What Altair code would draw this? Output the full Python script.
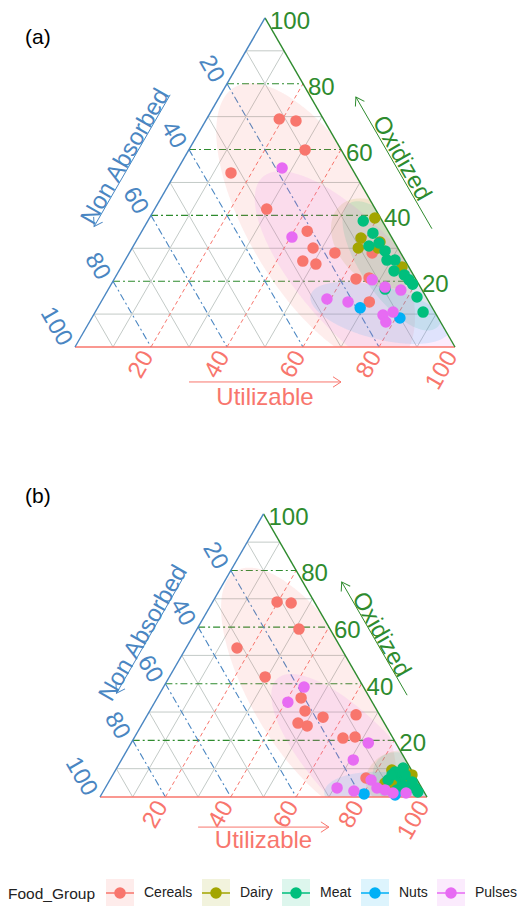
import altair as alt
import numpy as np
import pandas as pd

# ---------------- data (percent) ----------------
GROUPS = ["Cereals", "Dairy", "Meat", "Nuts", "Pulses"]
GROUP_COLORS = ["#F8766D", "#A3A500", "#00BF7D", "#00B0F6", "#E76BF3"]

# Panel (a): Utilizable and Oxidized; Non Absorbed = 100 - Utilizable - Oxidized
a_cereals_util = [19.1, 23.8, 30.6, 14.6, 29.5, 43.5, 47.6, 46.9, 50.8, 54.1, 63.6, 66.9, 70.6, 63.9]
a_cereals_oxid = [69.3, 68.7, 59.9, 52.9, 41.9, 35.2, 30.1, 26.1, 25.2, 28.6, 20.7, 21.0, 13.7, 28.6]
a_dairy_util = [59.3, 58.7, 59.5, 64.3, 64.7, 73.9]
a_dairy_oxid = [39.2, 33.1, 30.1, 31.9, 30.1, 24.3]
a_meat_util = [56.7, 61.1, 62.0, 64.2, 67.0, 68.9, 71.0, 72.4, 75.7, 77.7, 79.3, 72.8, 82.4, 86.3]
a_meat_oxid = [38.3, 34.6, 30.7, 31.6, 29.2, 26.4, 26.4, 23.1, 21.9, 20.4, 19.1, 17.6, 15.2, 10.6]
a_nuts_util = [69.1, 81.1]
a_nuts_oxid = [11.9, 8.8]
a_pulses_util = [27.3, 40.4, 68.0, 59.0, 65.0, 72.5, 77.1, 76.2, 78.4, 78.0]
a_pulses_oxid = [54.4, 33.4, 20.4, 14.6, 13.7, 18.2, 17.3, 9.7, 10.6, 7.6]

# Panel (b)
b_cereals_util = [19.7, 24.2, 31.2, 15.6, 29.3, 44.0, 47.5, 47.5, 50.8, 54.1, 63.8, 63.9, 67.4, 78.0]
b_cereals_oxid = [68.9, 68.5, 59.3, 52.6, 42.4, 35.0, 30.4, 26.1, 25.1, 28.2, 29.0, 20.8, 21.2, 6.7]
b_dairy_util = [84.7, 87.0, 91.4, 88.2, 84.5, 91.5]
b_dairy_oxid = [4.9, 4.6, 4.9, 9.5, 9.5, 7.8]
b_meat_util = [85.8, 87.6, 88.2, 85.1, 93.0, 94.7, 89.6, 86.6, 89.4, 85.4, 92.8, 92.5, 90.3, 96.3]
b_meat_oxid = [8.8, 10.2, 7.1, 6.0, 3.5, 3.2, 2.5, 8.5, 7.8, 7.8, 5.3, 2.8, 4.2, 1.8]
b_nuts_util = [80.2, 89.9]
b_nuts_oxid = [1.1, 0.7]
b_pulses_util = [43.0, 40.7, 72.5, 70.9, 70.9, 76.6, 79.9, 83.1, 85.9, 88.9, 92.9]
b_pulses_oxid = [38.8, 33.5, 19.1, 13.1, 3.2, 2.1, 6.0, 3.2, 2.5, 1.4, 1.4]

TICKS = [20, 40, 60, 80, 100]
MAJOR = [20, 40, 60, 80]
MINOR = [10, 30, 50, 70, 90]
PANEL_LABELS = ["(a)", "(b)"]
TITLE_U, TITLE_O, TITLE_N = "Utilizable", "Oxidized", "Non Absorbed"

# ---------------- layout / style ----------------
GEOM = {"a": dict(ox=67.0, oy=339.0, s=3.8), "b": dict(ox=92.0, oy=789.0, s=3.27)}
W, H = 513, 898
RED, GREEN, BLUE, GRAY = "#F8766D", "#2E8B2E", "#4A86C2", "#C3CAC7"
FONT = "Liberation Sans"
R3 = np.sqrt(3) / 2
K_SIG, REG_VAR = 2.3, 9.0
ZW = "\u200b"  # keeps the background-key legend separate from the point legend

XS = alt.Scale(domain=[0, W], nice=False, zero=False)
YS = alt.Scale(domain=[0, H], nice=False, zero=False, reverse=True)

panel_data = {
    "a": {"Cereals": (a_cereals_util, a_cereals_oxid), "Dairy": (a_dairy_util, a_dairy_oxid),
          "Meat": (a_meat_util, a_meat_oxid), "Nuts": (a_nuts_util, a_nuts_oxid),
          "Pulses": (a_pulses_util, a_pulses_oxid)},
    "b": {"Cereals": (b_cereals_util, b_cereals_oxid), "Dairy": (b_dairy_util, b_dairy_oxid),
          "Meat": (b_meat_util, b_meat_oxid), "Nuts": (b_nuts_util, b_nuts_oxid),
          "Pulses": (b_pulses_util, b_pulses_oxid)},
}

# points table
rows = []
for p, gd in panel_data.items():
    for g in GROUPS:
        U, O = gd[g]
        for u, o in zip(U, O):
            rows.append(dict(panel=p, group=g, U=u, O=o, N=100 - u - o, **GEOM[p]))
pts = pd.DataFrame(rows)

# confidence-like regions (covariance ellipses clipped to the triangle)
reg_rows = []
for p, gd in panel_data.items():
    for gi, g in enumerate(GROUPS):
        U, O = np.array(gd[g][0]), np.array(gd[g][1])
        x = U + O / 2
        y = O * R3
        m = np.array([x.mean(), y.mean()])
        C = np.cov(np.vstack([x, y])) + REG_VAR * np.eye(2)
        A = np.linalg.inv(C)
        hw = K_SIG * np.sqrt(C[0, 0])
        xs = m[0] + hw * np.cos(np.linspace(np.pi, 0, 260)) * 0.9999
        for xv in xs:
            if xv <= 0 or xv >= 100:
                continue
            dx = xv - m[0]
            qa = A[1, 1]
            qb = 2 * A[0, 1] * dx
            qc = A[0, 0] * dx * dx - K_SIG ** 2
            disc = qb * qb - 4 * qa * qc
            if disc < 0:
                continue
            y1 = m[1] + (-qb - np.sqrt(disc)) / (2 * qa)
            y2 = m[1] + (-qb + np.sqrt(disc)) / (2 * qa)
            top = min(xv, 100 - xv) * 2 * R3
            lo, hi = max(y1, 0.0), min(y2, top)
            if hi <= lo:
                continue
            reg_rows.append(dict(key=p + g, grp=g + ZW, xc=xv, ylo=lo, yhi=hi, **GEOM[p]))
regions = pd.DataFrame(reg_rows)

# grid lines (ternary end points)
grid_rows = []
for p in GEOM:
    for v in MINOR + MAJOR:
        kind = "minor" if v in MINOR else "major"
        grid_rows.append(dict(axis="O", kind=kind, U1=0, O1=v, U2=100 - v, O2=v, **GEOM[p]))
        grid_rows.append(dict(axis="U", kind=kind, U1=v, O1=0, U2=v, O2=100 - v, **GEOM[p]))
        grid_rows.append(dict(axis="N", kind=kind, U1=0, O1=100 - v, U2=100 - v, O2=0, **GEOM[p]))
    grid_rows.append(dict(axis="U", kind="edge", U1=0, O1=0, U2=100, O2=0, **GEOM[p]))
    grid_rows.append(dict(axis="O", kind="edge", U1=100, O1=0, U2=0, O2=100, **GEOM[p]))
    grid_rows.append(dict(axis="N", kind="edge", U1=0, O1=100, U2=0, O2=0, **GEOM[p]))
grid = pd.DataFrame(grid_rows)

# tick labels
tick_rows = []
for p in GEOM:
    for v in TICKS:
        tick_rows.append(dict(axis="U", label=str(v), U=v, O=0, offx=-3, offy=6, **GEOM[p]))
        tick_rows.append(dict(axis="O", label=str(v), U=100 - v, O=v, offx=5, offy=4, **GEOM[p]))
        tick_rows.append(dict(axis="N", label=str(v), U=0, O=100 - v, offx=-9, offy=-3, **GEOM[p]))
ticks = pd.DataFrame(tick_rows)

# axis titles and arrows (cartesian units, y up)
nR = np.array([R3, 0.5])
nL = np.array([-R3, 0.5])


def edge_pt(axis, v):
    if axis == "O":
        return np.array([100 - v / 2, v * R3])
    return np.array([(100 - v) / 2, (100 - v) * R3])  # left edge, N = v


title_rows, arrow_rows = [], []
for p in GEOM:
    g = GEOM[p]
    title_rows.append(dict(axis="U", text=TITLE_U, xc=50, yc=-13.4, **g))
    tO = edge_pt("O", 50) + 12.6 * nR
    title_rows.append(dict(axis="O", text=TITLE_O, xc=tO[0], yc=tO[1], **g))
    tN = edge_pt("N", 50) + 13.5 * nL
    title_rows.append(dict(axis="N", text=TITLE_N, xc=tN[0], yc=tN[1], **g))
    arrow_rows.append(dict(axis="U", col=RED, ang=0, x1=30, y1=-9.2, x2=70, y2=-9.2, **g))
    s0, s1 = edge_pt("O", 30) + 10.3 * nR, edge_pt("O", 70) + 10.3 * nR
    arrow_rows.append(dict(axis="O", col=GREEN, ang=240, x1=s0[0], y1=s0[1], x2=s1[0], y2=s1[1], **g))
    s0, s1 = edge_pt("N", 30) + 11.5 * nL, edge_pt("N", 70) + 11.5 * nL
    arrow_rows.append(dict(axis="N", col=BLUE, ang=120, x1=s0[0], y1=s0[1], x2=s1[0], y2=s1[1], **g))
titles = pd.DataFrame(title_rows)
arrows = pd.DataFrame(arrow_rows)

plabels = pd.DataFrame(dict(text=PANEL_LABELS, px=[17, 17], py=[30, 489]))

# ---------------- layers ----------------
def XY(xf, yf):
    return dict(x=alt.X(xf, type="quantitative", scale=XS, axis=None),
                y=alt.Y(yf, type="quantitative", scale=YS, axis=None))


def grid_chart(filt, **mk):
    return alt.Chart(grid).transform_filter(filt).transform_calculate(
        x1="datum.ox + datum.s*(datum.U1 + datum.O1/2)",
        y1="datum.oy - datum.s*datum.O1*0.8660254",
        x2="datum.ox + datum.s*(datum.U2 + datum.O2/2)",
        y2="datum.oy - datum.s*datum.O2*0.8660254",
    ).mark_rule(**mk).encode(**XY("x1", "y1"), x2="x2:Q", y2="y2:Q")


minor = grid_chart("datum.kind == 'minor'", color=GRAY, strokeWidth=1)
maj_u = grid_chart("datum.kind == 'major' && datum.axis == 'U'", color=RED, strokeWidth=1, strokeDash=[4, 3])
maj_o = grid_chart("datum.kind == 'major' && datum.axis == 'O'", color=GREEN, strokeWidth=1.1, strokeDash=[7, 3, 2, 3])
maj_n = grid_chart("datum.kind == 'major' && datum.axis == 'N'", color=BLUE, strokeWidth=1.1, strokeDash=[7, 3, 2, 3])
edge_u = grid_chart("datum.kind == 'edge' && datum.axis == 'U'", color=RED, strokeWidth=1.6)
edge_o = grid_chart("datum.kind == 'edge' && datum.axis == 'O'", color=GREEN, strokeWidth=1.4)
edge_n = grid_chart("datum.kind == 'edge' && datum.axis == 'N'", color=BLUE, strokeWidth=1.4)

LEG_COMMON = dict(orient="none", legendX=0, legendY=870, direction="horizontal",
                  title="Food_Group", titleOrient="left", titleFont=FONT, titleFontSize=15.5,
                  titleFontWeight="normal", titleColor="#222222", titlePadding=9,
                  titleBaseline="middle",
                  labelFont=FONT, labelFontSize=14, labelColor="#222222", labelOffset=9,
                  symbolSize=784, symbolStrokeWidth=1.5, columnPadding=6, padding=0)

area = alt.Chart(regions).transform_calculate(
    px="datum.ox + datum.s*datum.xc",
    py1="datum.oy - datum.s*datum.ylo",
    py2="datum.oy - datum.s*datum.yhi",
).mark_area(opacity=0.13, interpolate="monotone").encode(
    **XY("px", "py1"), y2="py2:Q",
    color=alt.Color("grp:N", scale=alt.Scale(domain=[g + ZW for g in GROUPS], range=GROUP_COLORS),
                    legend=alt.Legend(symbolType="M-1,-1L1,-1L1,1L-1,1Z", symbolStrokeColor="transparent",
                                      titleOpacity=0, labelOpacity=0, **LEG_COMMON)),
    detail="key:N")

# line-through-point key; the bare moves give it the same square bounds as the background keys
LEG_PATH = "M-1,-1M1,1M-1,0L1,0M0.36,0A0.36,0.36,0,1,1,-0.36,0A0.36,0.36,0,1,1,0.36,0Z"
PT_SCALE = alt.Scale(domain=GROUPS, range=GROUP_COLORS)
PT_LEGEND = alt.Legend(symbolType=LEG_PATH, **LEG_COMMON)
points = alt.Chart(pts).transform_calculate(
    px="datum.ox + datum.s*(datum.U + datum.O/2)",
    py="datum.oy - datum.s*datum.O*0.8660254",
).mark_point(filled=True, size=100, opacity=1, strokeWidth=1.5).encode(
    **XY("px", "py"),
    fill=alt.Fill("group:N", scale=PT_SCALE, legend=PT_LEGEND),
    stroke=alt.Stroke("group:N", scale=PT_SCALE, legend=PT_LEGEND))


def tick_chart(axis, col, angle, align):
    return alt.Chart(ticks).transform_filter(f"datum.axis == '{axis}'").transform_calculate(
        px="datum.ox + datum.s*(datum.U + datum.O/2) + datum.offx",
        py="datum.oy - datum.s*datum.O*0.8660254 + datum.offy",
    ).mark_text(font=FONT, fontSize=24, color=col, angle=angle, align=align, baseline="middle").encode(
        **XY("px", "py"), text="label:N")


def title_chart(axis, col, angle):
    return alt.Chart(titles).transform_filter(f"datum.axis == '{axis}'").transform_calculate(
        px="datum.ox + datum.s*datum.xc", py="datum.oy - datum.s*datum.yc",
    ).mark_text(font=FONT, fontSize=24, color=col, angle=angle, align="center", baseline="middle").encode(
        **XY("px", "py"), text="text:N")


arrow_base = alt.Chart(arrows).transform_calculate(
    ax1="datum.ox + datum.s*datum.x1", ay1="datum.oy - datum.s*datum.y1",
    ax2="datum.ox + datum.s*datum.x2", ay2="datum.oy - datum.s*datum.y2",
)
arrow_lines = arrow_base.mark_rule(strokeWidth=1).encode(
    **XY("ax1", "ay1"), x2="ax2:Q", y2="ay2:Q", color=alt.Color("col:N", scale=None))
arrow_heads = arrow_base.mark_point(shape="M-1,-0.65L0,0L-1,0.65", size=256, filled=False,
                                    strokeWidth=1, opacity=1).encode(
    **XY("ax2", "ay2"), color=alt.Color("col:N", scale=None), angle=alt.Angle("ang:Q", scale=None))

panel_text = alt.Chart(plabels).mark_text(font=FONT, fontSize=21, color="black", align="left",
                                          baseline="middle").encode(**XY("px", "py"), text="text:N")

chart = alt.layer(
    minor, maj_u, maj_o, maj_n, area, edge_u, edge_o, edge_n, points,
    tick_chart("U", RED, 300, "right"), tick_chart("O", GREEN, 0, "left"), tick_chart("N", BLUE, 60, "right"),
    title_chart("U", RED, 0), title_chart("O", GREEN, 60), title_chart("N", BLUE, 300),
    arrow_lines, arrow_heads, panel_text,
).properties(
    width=W, height=H, autosize=alt.AutoSizeParams(type="none"), padding=0
).configure_view(strokeWidth=0)

chart.save("out.html", embed_options={"renderer": "svg", "actions": False})
